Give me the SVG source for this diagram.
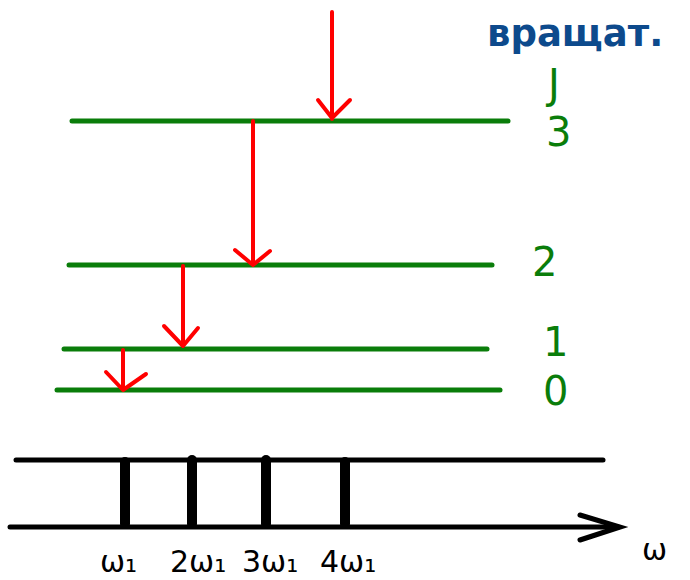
<svg xmlns="http://www.w3.org/2000/svg" width="690" height="580" viewBox="0 0 690 580">
<style>
.lvl{stroke:#0a7d0a;stroke-width:5;stroke-linecap:round;fill:none}
.arr{stroke:#ff0000;stroke-width:4;stroke-linecap:round;stroke-linejoin:round;fill:none}
.ax{stroke:#000;stroke-width:5;stroke-linecap:round;fill:none}
.bar{stroke:#000;stroke-width:10;stroke-linecap:round}
.gl{font-family:"DejaVu Sans","Liberation Sans",sans-serif;fill:#0a7d0a;font-size:40px}
.bl{font-family:"DejaVu Sans","Liberation Sans",sans-serif;fill:#000;font-size:30px}
.tt{font-family:"DejaVu Sans","Liberation Sans",sans-serif;fill:#0d4a8c;font-size:37px;font-weight:bold}
</style>
<rect width="690" height="580" fill="#fff"/>
<g id="level3"><line class="lvl" x1="72" y1="121" x2="508" y2="121"/><text class="gl" x="546" y="146">3</text></g>
<g id="level2"><line class="lvl" x1="69" y1="265" x2="492" y2="265"/><text class="gl" x="532" y="276">2</text></g>
<g id="level1"><line class="lvl" x1="64" y1="349" x2="487" y2="349"/><text class="gl" x="543" y="356">1</text></g>
<g id="level0"><line class="lvl" x1="57" y1="390" x2="500" y2="390"/><text class="gl" x="543" y="405">0</text></g>
<g id="jlabel"><text class="gl" x="548" y="98" font-size="36">J</text></g>
<g id="title"><text class="tt" x="487" y="46">вращат.</text></g>
<g id="connectors">
<path class="arr" d="M332 12V119M318 100L332 118L350 100"/>
<path class="arr" d="M253 121V264M235 250L253 265L270 251"/>
<path class="arr" d="M183 266V346M164 326L183 346L198 328"/>
<path class="arr" d="M123 350V389M106 372L123 390L146 374"/>
</g>
<g id="spectrum">
<line class="ax" x1="16" y1="460" x2="603" y2="460"/>
<line class="ax" x1="10" y1="527" x2="618" y2="527"/>
<path class="ax" d="M580 515L620 527L580 540" stroke-width="4"/>
<line class="bar" x1="125" y1="462" x2="125" y2="524"/>
<line class="bar" x1="192" y1="460" x2="192" y2="524"/>
<line class="bar" x1="266" y1="460" x2="266" y2="524"/>
<line class="bar" x1="345" y1="462" x2="345" y2="524"/>
</g>
<g id="labels">
<text class="bl" x="100" y="572">ω₁</text>
<text class="bl" x="170" y="572">2ω₁</text>
<text class="bl" x="242" y="572">3ω₁</text>
<text class="bl" x="320" y="572">4ω₁</text>
<text class="bl" x="642" y="560" font-size="50">ω</text>
</g>
</svg>
